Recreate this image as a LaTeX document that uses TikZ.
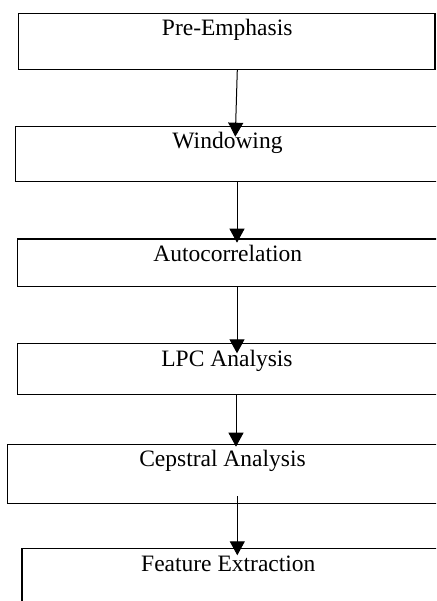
\documentclass[tikz,border=0pt]{standalone}
\usepackage{fontspec}
\setmainfont{Liberation Serif}
\usetikzlibrary{arrows.meta}
\begin{document}
\begin{tikzpicture}[x=1pt,y=-1pt,
  stage/.style={draw=black,line width=1.3pt,rectangle,inner sep=0pt,outer sep=0pt,anchor=north west},
  caption/.style={anchor=base,inner sep=0pt,font=\fontsize{23.5}{28}\selectfont},
  flow/.style={draw=black,line width=1pt,-{Triangle[width=15pt,length=14pt]}}]
\useasboundingbox (0,0) rectangle (436,601);
\clip (0,0) rectangle (436,601);
\fill[white] (0,0) rectangle (436,601);

% processing stages
\node[stage,minimum width=416.3pt,minimum height=56pt] (b1) at (18.7,13.7) {};
\node[stage,minimum width=440pt,minimum height=55pt] (b2) at (15.7,126.7) {};
\node[stage,minimum width=440pt,minimum height=47.7pt] (b3) at (17.3,239) {};
\node[stage,minimum width=440pt,minimum height=51pt] (b4) at (17.3,343.3) {};
\node[stage,minimum width=450pt,minimum height=59pt] (b5) at (7.3,444.7) {};
\node[stage,minimum width=440pt,minimum height=80pt] (b6) at (22,548.7) {};

% stage names
\node[caption] (t1) at (227.2,35.7) {Pre-Emphasis};
\node[caption] (t2) at (227.5,149) {Windowing};
\node[caption] (t3) at (227.8,261) {Autocorrelation};
\node[caption] (t4) at (227,366) {LPC Analysis};
\node[caption] (t5) at (222.5,466.7) {Cepstral Analysis};
\node[caption] (t6) at (228.3,571) {Feature Extraction};

% arrows between stages
\draw[flow] ([xshift=218.6pt]b1.south west) -- ([xshift=219.6pt,yshift=-10pt]b2.north west);
\draw[flow] ([xshift=221.3pt]b2.south west) -- ([xshift=219.7pt,yshift=-3.7pt]b3.north west);
\draw[flow] ([xshift=219.7pt]b3.south west) -- ([xshift=219.7pt,yshift=-10pt]b4.north west);
\draw[flow] ([xshift=218.7pt]b4.south west) -- ([xshift=228.7pt,yshift=-2pt]b5.north west);
\draw[flow] ([xshift=230pt,yshift=7.7pt]b5.south west) -- ([xshift=215.3pt,yshift=-6.6pt]b6.north west);
\end{tikzpicture}
\end{document}
